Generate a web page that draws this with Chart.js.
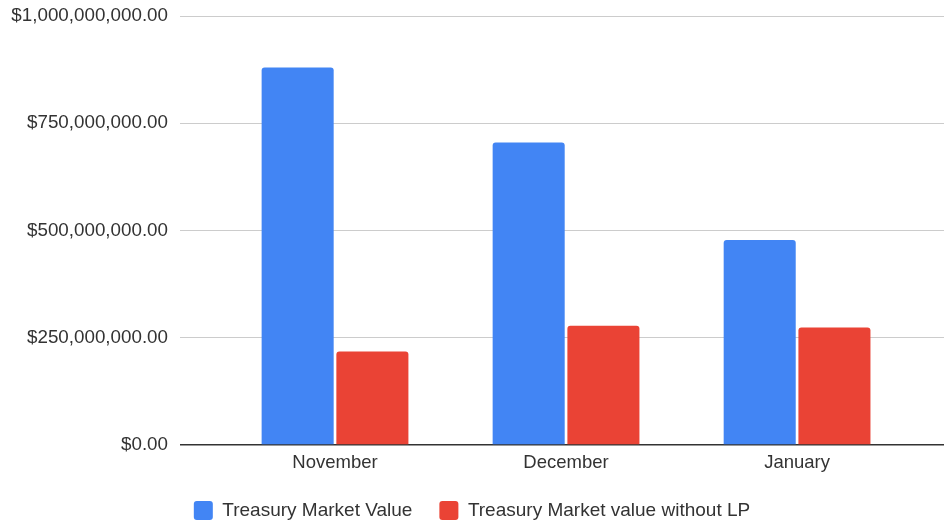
<!DOCTYPE html>
<html>
<head>
<meta charset="utf-8">
<script src="https://cdn.jsdelivr.net/npm/chart.js@4/dist/chart.umd.min.js"></script>
<style>
  html, body { margin: 0; padding: 0; background: #fff; }
  #wrap { width: 944px; height: 522px; position: relative; }
</style>
</head>
<body>
<div id="wrap"><canvas id="c"></canvas></div>
<script>
const categories = ['November', 'December', 'January'];
const treasuryMarketValue = [880000000, 705000000, 478000000];
const treasuryMarketValueWithoutLP = [218000000, 278000000, 274000000];
const yTicks = [0, 250000000, 500000000, 750000000, 1000000000];

const FONT = '"Liberation Sans", Arial, sans-serif';

function toPoints(values) {
  return values.map((v, i) => ({ x: i, y: v }));
}

new Chart(document.getElementById('c'), {
  type: 'bar',
  data: {
    datasets: [
      {
        label: 'Treasury Market Value',
        data: toPoints(treasuryMarketValue),
        backgroundColor: '#4285F4',
        borderWidth: 0,
        borderRadius: { topLeft: 3, topRight: 3, bottomLeft: 0, bottomRight: 0 },
        borderSkipped: false,
        categoryPercentage: 0.647,
        barPercentage: 0.964
      },
      {
        label: 'Treasury Market value without LP',
        data: toPoints(treasuryMarketValueWithoutLP),
        backgroundColor: '#EA4335',
        borderWidth: 0,
        borderRadius: { topLeft: 3, topRight: 3, bottomLeft: 0, bottomRight: 0 },
        borderSkipped: false,
        categoryPercentage: 0.647,
        barPercentage: 0.964
      }
    ]
  },
  options: {
    responsive: true,
    maintainAspectRatio: false,
    animation: false,
    layout: { padding: { top: 16, right: 0, left: 0, bottom: -8 } },
    scales: {
      x: {
        type: 'linear',
        min: -0.671,
        max: 2.636,
        offset: false,
        afterBuildTicks: (scale) => {
          scale.ticks = categories.map((c, i) => ({ value: i }));
        },
        afterFit: (scale) => { scale.height = 29; },
        ticks: {
          callback: (value) => categories[value] !== undefined ? categories[value] : '',
          font: { family: FONT, size: 18.5 },
          color: '#333',
          padding: 7,
          maxRotation: 0,
          autoSkip: false
        },
        grid: { display: false, drawTicks: false },
        border: { display: false }
      },
      y: {
        min: 0,
        max: 1000000000,
        afterBuildTicks: (scale) => {
          scale.ticks = yTicks.map(v => ({ value: v }));
        },
        afterFit: (scale) => {
          scale.width = 180;
          scale.paddingTop = 0;
          scale.paddingBottom = 0;
        },
        ticks: {
          callback: (value) => '$' + Number(value).toLocaleString('en-US', { minimumFractionDigits: 2, maximumFractionDigits: 2 }),
          font: { family: FONT, size: 18.8 },
          color: '#333',
          padding: 12
        },
        grid: {
          drawTicks: false,
          color: (ctx) => ctx.tick && ctx.tick.value === 0 ? '#333333' : '#cccccc',
          lineWidth: (ctx) => ctx.tick && ctx.tick.value === 0 ? 1.5 : 1
        },
        border: { display: false }
      }
    },
    plugins: {
      legend: {
        position: 'bottom',
        labels: {
          font: { family: FONT, size: 19 },
          color: '#333',
          boxWidth: 19,
          boxHeight: 19,
          padding: 27,
          useBorderRadius: true,
          borderRadius: 3
        }
      },
      tooltip: { enabled: false }
    }
  }
});
</script>
</body>
</html>
